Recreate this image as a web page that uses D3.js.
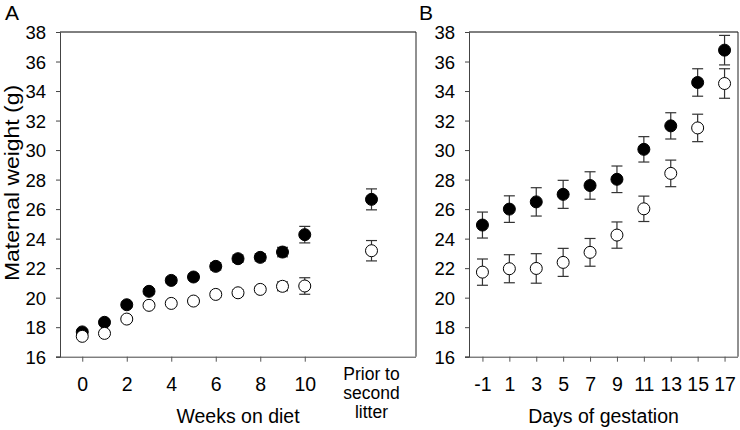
<!DOCTYPE html>
<html><head><meta charset="utf-8">
<script src="https://cdn.jsdelivr.net/npm/d3@7"></script>
<style>body{margin:0;background:#fff}svg{display:block}text{font-family:"Liberation Sans",Arial,sans-serif;fill:#000}</style>
</head><body>
<svg id="c" width="740" height="430"></svg>
<script>
// Panel A: weeks on diet (13 = "Prior to second litter")
const weeksA = [0,1,2,3,4,5,6,7,8,9,10,13];
const filledA = [17.68,18.33,19.52,20.43,21.17,21.40,22.12,22.64,22.73,23.09,24.27,26.66];
const filledAErr = [0.15,0.15,0.18,0.18,0.2,0.2,0.25,0.25,0.25,0.32,0.56,0.71];
const openA = [17.38,17.58,18.55,19.48,19.61,19.77,20.22,20.33,20.56,20.77,20.79,23.18];
const openAErr = [0.1,0.12,0.15,0.15,0.15,0.2,0.2,0.2,0.2,0.3,0.56,0.69];
const tickLabelsA = [0,2,4,6,8,10];

// Panel B: days of gestation
const daysB = [-1,1,3,5,7,9,11,13,15,17];
const filledB = [24.92,26.00,26.49,27.00,27.60,28.02,30.05,31.64,34.58,36.77];
const filledBErr = [0.88,0.90,0.96,0.95,0.93,0.90,0.86,0.89,0.93,1.00];
const openB = [21.73,21.96,21.98,22.39,23.07,24.24,26.02,28.42,31.50,34.51];
const openBErr = [0.89,0.95,1.00,0.95,0.94,0.89,0.86,0.90,0.93,1.00];
const tickLabelsB = [-1,1,3,5,7,9,11,13,15,17];

const yTicks = [16,18,20,22,24,26,28,30,32,34,36,38];

(function(){
const svg = d3.select("#c");
const pTop = 32, pBottom = 356.7;
const y = d3.scaleLinear().domain([16,38]).range([pBottom, pTop]);
const fmt = d => String(d);

function panel(left, right, xDomain, xs, filled, fErr, open, oErr, ticks, title, letter) {
  const x = d3.scaleLinear().domain(xDomain).range([left, right]);
  const g = svg.append("g");
  g.append("line").attr("x1",left).attr("x2",right).attr("y1",pTop).attr("y2",pTop).attr("stroke","#000").attr("stroke-width",1);
  g.append("line").attr("x1",right).attr("x2",right).attr("y1",pTop).attr("y2",pBottom).attr("stroke","#222").attr("stroke-width",1);
  const ya = g.append("g").attr("transform",`translate(${left},0)`)
    .call(d3.axisLeft(y).tickValues(yTicks).tickSize(4).tickPadding(10).tickFormat(fmt));
  ya.select(".domain").attr("stroke","#444");
  ya.selectAll(".tick line").attr("stroke","#444");
  ya.selectAll("text").style("font-size","18.5px").attr("dy","0.36em");
  const xa = g.append("g").attr("transform",`translate(0,${pBottom})`)
    .call(d3.axisBottom(x).tickValues(ticks).tickSize(5).tickPadding(15).tickFormat(fmt));
  xa.select(".domain").attr("stroke","#444").attr("d",`M${left-4},0.5H${right}`);
  xa.selectAll(".tick line").attr("stroke","#555");
  xa.selectAll("text").style("font-size","19.5px");
  g.append("text").attr("x",(left+right)/2).attr("y",423).attr("text-anchor","middle")
    .style("font-size","19.5px").text(title);
  g.append("text").attr("x",letter.x).attr("y",20).style("font-size","21px").text(letter.t);

  function series(vals, errs, fill) {
    const s = g.append("g");
    xs.forEach((xv,i)=>{
      const cx = x(xv), e = errs[i];
      const y1 = y(vals[i]+e), y2 = y(vals[i]-e);
      s.append("line").attr("x1",cx).attr("x2",cx).attr("y1",y1).attr("y2",y2).attr("stroke","#333").attr("stroke-width",1.2);
      [y1,y2].forEach(yy=> s.append("line").attr("x1",cx-5.5).attr("x2",cx+5.5).attr("y1",yy).attr("y2",yy).attr("stroke","#333").attr("stroke-width",1.2));
    });
    xs.forEach((xv,i)=>{
      s.append("circle").attr("cx",x(xv)).attr("cy",y(vals[i])).attr("r",6)
        .attr("fill",fill).attr("stroke","#000").attr("stroke-width",1);
    });
  }
  series(filled, fErr, "#000");
  series(open, oErr, "#fff");
  return {x, g};
}

const A = panel(60, 416, [-1,15], weeksA, filledA, filledAErr, openA, openAErr, tickLabelsA, "Weeks on diet", {x:5,t:"A"});
const pl = A.g.append("text").attr("text-anchor","middle").style("font-size","17.5px");
["Prior to","second","litter"].forEach((t,i)=> pl.append("tspan").attr("x",A.x(13)).attr("y",380+i*19).text(t));

panel(469, 738, [-2,18], daysB, filledB, filledBErr, openB, openBErr, tickLabelsB, "Days of gestation", {x:419,t:"B"});

svg.append("text").attr("transform","translate(19,183) rotate(-90)").attr("text-anchor","middle")
  .style("font-size","20px").attr("textLength",196).attr("lengthAdjust","spacingAndGlyphs")
  .text("Maternal weight (g)");
})();
</script>
</body></html>
